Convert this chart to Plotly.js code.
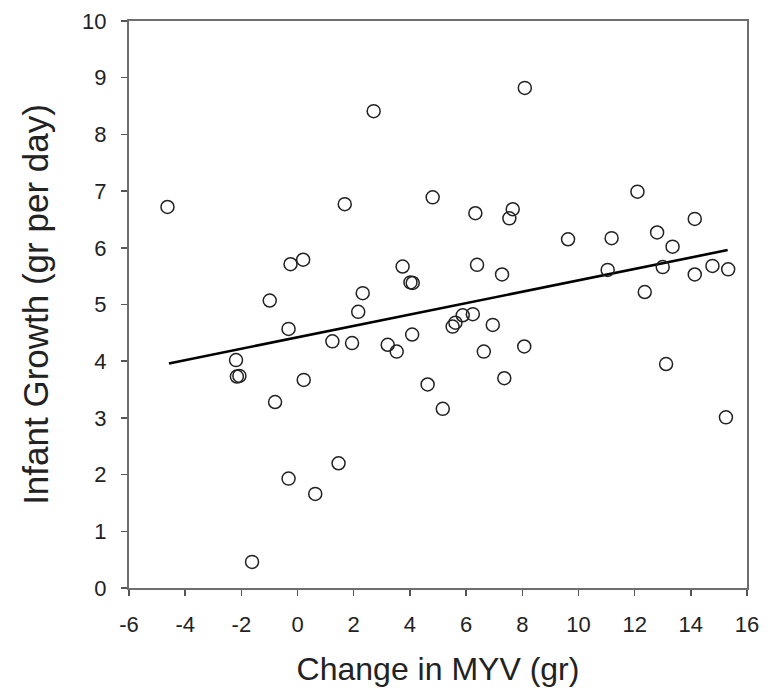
<!DOCTYPE html>
<html>
<head>
<meta charset="utf-8">
<script src="https://cdn.plot.ly/plotly-3.0.1.min.js"></script>
<style>html,body{margin:0;padding:0;background:#fff;}#chart{width:768px;height:696px;}</style>
</head>
<body>
<div id="chart"></div>
<script>
// Change in MYV (gr)
const myvChange = [-4.63, 2.71, 1.68, 4.81, -0.25, 0.20, 3.74, 4.02, 4.10, -0.99,
  2.32, 2.16, 8.09, 6.33, 7.66, 7.54, 12.10, 14.14, 9.63, 11.18,
  12.80, 13.35, 6.39, 7.28, 11.04, 13.00, 14.14, 14.77, 15.33, 12.36,
  -2.19, -2.16, -2.07, -0.32, 0.22, -0.80, 1.24, 1.94, 3.21, 3.53,
  4.08, 4.63, 5.17, 1.46, -0.32, 0.63, -1.62, 5.52, 5.62, 5.88,
  6.24, 6.95, 6.63, 8.07, 7.36, 13.12, 15.25];
// Infant growth (gr per day)
const infantGrowth = [6.72, 8.41, 6.77, 6.89, 5.71, 5.79, 5.67, 5.39, 5.38, 5.07,
  5.20, 4.87, 8.82, 6.61, 6.68, 6.52, 6.99, 6.51, 6.15, 6.17,
  6.27, 6.02, 5.70, 5.53, 5.61, 5.66, 5.53, 5.68, 5.62, 5.22,
  4.02, 3.73, 3.74, 4.57, 3.67, 3.28, 4.35, 4.32, 4.29, 4.17,
  4.47, 3.59, 3.16, 2.20, 1.93, 1.66, 0.46, 4.61, 4.68, 4.81,
  4.83, 4.64, 4.17, 4.26, 3.70, 3.95, 3.01];
// Regression line endpoints
const fitX = [-4.58, 15.31];
const fitY = [3.96, 5.96];
const xTicks = [-6, -4, -2, 0, 2, 4, 6, 8, 10, 12, 14, 16];
const yTicks = [0, 1, 2, 3, 4, 5, 6, 7, 8, 9, 10];

const FONT = 'Liberation Sans, Arial, sans-serif';
const data = [
  {x: fitX, y: fitY, type: 'scatter', mode: 'lines',
   line: {color: '#000', width: 2.6}, hoverinfo: 'skip', showlegend: false},
  {x: myvChange, y: infantGrowth, type: 'scatter', mode: 'markers',
   marker: {symbol: 'circle-open', size: 13, color: '#222', line: {width: 1.5, color: '#222'}},
   showlegend: false}
];
const axisCommon = {
  showgrid: false, zeroline: false, showline: true, mirror: true,
  linecolor: '#6e6e6e', linewidth: 2, ticks: 'outside', ticklen: 6,
  tickcolor: '#555', tickwidth: 1.5,
  tickfont: {family: FONT, size: 22, color: '#222'}
};
const layout = {
  width: 768, height: 696,
  margin: {l: 129, r: 21, t: 21, b: 108},
  paper_bgcolor: '#fff', plot_bgcolor: '#fff',
  xaxis: Object.assign({}, axisCommon, {
    range: [-6, 16], tickvals: xTicks, ticktext: xTicks.map(String),
    ticklabelstandoff: 10,
    title: {text: 'Change in MYV (gr)', font: {family: FONT, size: 32, color: '#222'}, standoff: 21}
  }),
  yaxis: Object.assign({}, axisCommon, {
    range: [0, 10], tickvals: yTicks, ticktext: yTicks.map(String),
    ticklabelstandoff: 10,
    title: {text: 'Infant Growth (gr per day)', font: {family: FONT, size: 35, color: '#222'}, standoff: 23}
  })
};
Plotly.newPlot('chart', data, layout, {displayModeBar: false, staticPlot: true});
</script>
</body>
</html>
